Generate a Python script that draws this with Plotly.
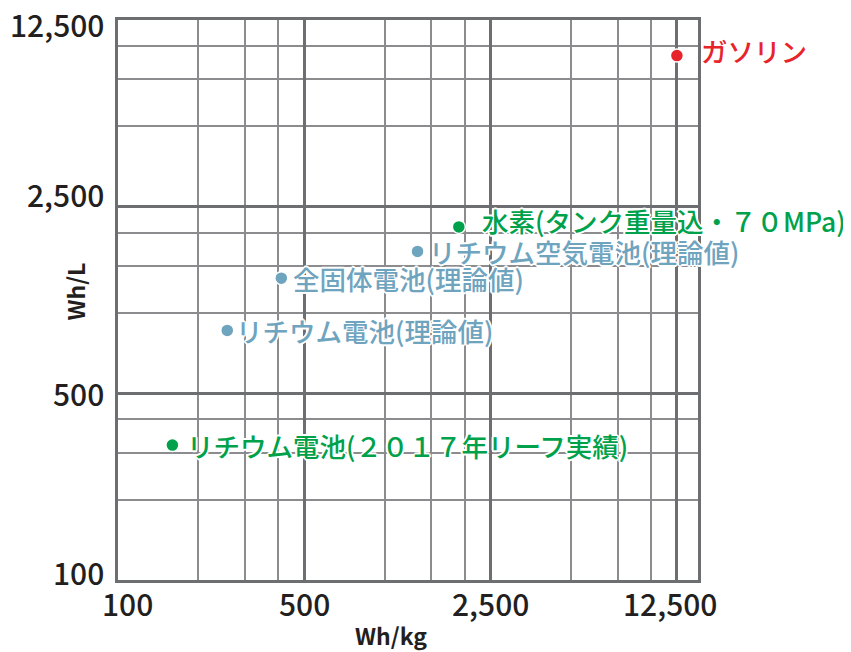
import numpy as np
import plotly.graph_objects as go

# ---- data ----
labels = ["ガソリン", "水素(タンク重量込・７０MPa)", "リチウム空気電池(理論値)",
          "全固体電池(理論値)", "リチウム電池(理論値)", "リチウム電池(２０１７年リーフ実績)"]
wh_per_kg = [12500, 1900, 1330, 410, 257, 160]
wh_per_l = [9200, 2100, 1700, 1350, 860, 320]
groups = ["red", "green", "blue", "blue", "blue", "green"]

major_ticks = [100, 500, 2500, 12500]
major_ticktext = ["100", "500", "2,500", "12,500"]
minor_ticks = [200, 300, 400, 1000, 1500, 2000, 5000, 7500, 10000]

# ---- styles ----
colors = {"red": "#e8242b", "green": "#00a14b", "blue": "#6fa4bf"}
label_xshift = [22, 21, 9, 10, 7, 13]
label_yshift = [5, 6, 0, 0, 0, 0]
xtick_shift = [9, 0, 0, -7]
ytick_shift = [8, 0, 13, -4]
FONT = "Noto Sans CJK JP"
TXT = "#231f20"
halo = ("1px 1px 0 white, -1px -1px 0 white, 1px -1px 0 white, -1px 1px 0 white, "
        "2px 0 0 white, -2px 0 0 white, 0 2px 0 white, 0 -2px 0 white")

# page body has an 8px default margin; compensate so the chart sits at the window origin
PAGE_OFFSET = 8
W, H = 851 - PAGE_OFFSET, 652 - PAGE_OFFSET
L, R, T, B = 118 - PAGE_OFFSET, 153, 17 - PAGE_OFFSET, 72
PW, PH = W - L - R, H - T - B

fig = go.Figure()
for g in ["green", "blue", "red"]:
    idx = [i for i, gg in enumerate(groups) if gg == g]
    fig.add_trace(go.Scatter(
        x=[wh_per_kg[i] for i in idx], y=[wh_per_l[i] for i in idx],
        mode="markers",
        marker=dict(size=13, color=colors[g], line=dict(color="white", width=1.5)),
        hoverinfo="skip", showlegend=False, cliponaxis=False,
    ))

for i, lab in enumerate(labels):
    fig.add_annotation(
        x=np.log10(wh_per_kg[i]), y=np.log10(wh_per_l[i]), xref="x", yref="y",
        text=lab, showarrow=False, xanchor="left", yanchor="middle",
        xshift=label_xshift[i], yshift=label_yshift[i],
        font=dict(family=FONT, size=26.5, color=colors[groups[i]], shadow=halo, weight=500),
    )

# tick labels (placed on the axes' own scales)
for v, t, s in zip(major_ticks, major_ticktext, xtick_shift):
    fig.add_annotation(x=np.log10(v), y=0, xref="x", yref="paper", text=t, showarrow=False,
                       xanchor="center", yanchor="middle", xshift=s, yshift=-23,
                       font=dict(family=FONT, size=30, color=TXT, weight=500))
for v, t, s in zip(major_ticks, major_ticktext, ytick_shift):
    fig.add_annotation(x=0, y=np.log10(v), xref="paper", yref="y", text=t, showarrow=False,
                       xanchor="right", yanchor="middle", xshift=-12, yshift=s,
                       font=dict(family=FONT, size=30, color=TXT, weight=500))

axis_common = dict(
    type="log",
    tickmode="array", tickvals=major_ticks, showticklabels=False,
    showgrid=True, gridcolor="#6d6e71", gridwidth=3,
    showline=True, mirror=True, linecolor="#6d6e71", linewidth=3,
    ticks="", zeroline=False,
    minor=dict(tickmode="array", tickvals=minor_ticks, showgrid=True,
               gridcolor="#8c8c8e", gridwidth=1.5, ticks=""),
    fixedrange=True,
)

fig.update_xaxes(**axis_common, range=[2, np.log10(15000)])
fig.update_yaxes(**axis_common, range=[2 - 1e-4, np.log10(12500) + 1e-4])

fig.add_annotation(text="<b>Wh/kg</b>", xref="paper", yref="paper", x=(391 - 118) / PW,
                   y=-(635 - 580) / PH, showarrow=False, xanchor="center", yanchor="middle",
                   font=dict(family=FONT, size=23, color=TXT))
fig.add_annotation(text="<b>Wh/L</b>", xref="paper", yref="paper", x=-(118 - 75) / PW,
                   y=(580 - 290) / PH, showarrow=False, xanchor="center", yanchor="middle",
                   textangle=-90, font=dict(family=FONT, size=23, color=TXT))

fig.update_layout(
    width=W, height=H,
    margin=dict(l=L, r=R, t=T, b=B),
    paper_bgcolor="white", plot_bgcolor="white",
    showlegend=False,
)

fig.write_html("out.html", config={"displayModeBar": False})
